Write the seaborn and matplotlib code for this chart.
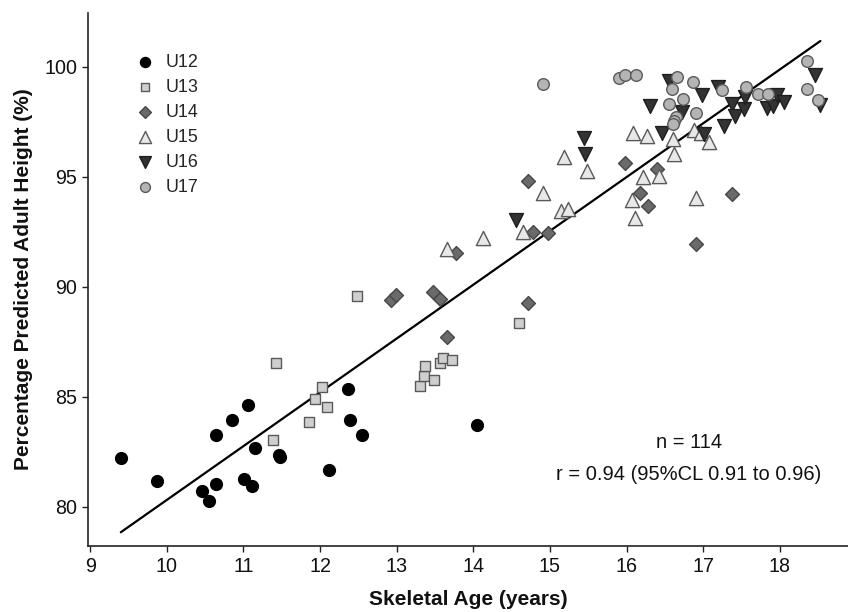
import matplotlib
matplotlib.use("Agg")
import matplotlib.pyplot as plt
import seaborn as sns
import pandas as pd

# ---- data ----
u12_age = [9.40, 9.87, 10.46, 10.55, 10.64, 10.64, 10.85, 11.06, 11.01, 11.11, 11.15,
           11.47, 11.48, 12.12, 12.36, 12.39, 12.55, 14.05]
u12_pct = [82.23, 81.18, 80.71, 80.29, 81.05, 83.29, 83.95, 84.62, 81.27, 80.94, 82.67,
           82.34, 82.26, 81.70, 85.36, 83.93, 83.25, 83.73]

u13_age = [11.42, 12.02, 11.94, 12.09, 11.85, 11.39, 12.48, 13.30, 13.35, 13.37, 13.49,
           13.57, 13.60, 13.72, 14.60]
u13_pct = [86.55, 85.43, 84.91, 84.56, 83.88, 83.05, 89.59, 85.50, 85.95, 86.41, 85.77,
           86.52, 86.77, 86.68, 88.38]

u14_age = [12.92, 12.99, 13.48, 13.57, 13.66, 14.71, 13.77, 14.71, 14.78, 14.97, 15.98,
           16.40, 16.18, 16.28, 16.90, 17.38]
u14_pct = [89.40, 89.65, 89.76, 89.43, 87.71, 89.26, 91.52, 94.80, 92.50, 92.45, 95.65,
           95.35, 94.27, 93.68, 91.95, 94.21]

u15_age = [13.66, 14.13, 14.65, 14.91, 15.18, 15.15, 15.23, 15.48, 16.08, 16.27, 16.21,
           16.42, 16.07, 16.11, 16.61, 16.62, 16.90, 16.88, 16.97, 17.07]
u15_pct = [91.70, 92.24, 92.50, 94.27, 95.91, 93.45, 93.55, 95.26, 96.97, 96.85, 95.00,
           95.03, 93.94, 93.14, 96.70, 96.02, 94.05, 97.12, 97.00, 96.58]

u16_age = [14.56, 15.44, 15.46, 16.46, 16.30, 16.55, 16.72, 16.99, 17.19, 17.01, 17.27,
           17.38, 17.41, 17.53, 17.54, 17.83, 17.91, 17.96, 18.06, 18.46, 18.53]
u16_pct = [93.06, 96.75, 96.02, 97.00, 98.21, 99.35, 97.95, 98.70, 99.09, 96.94, 97.30,
           98.29, 97.76, 98.06, 98.61, 98.11, 98.21, 98.71, 98.41, 99.62, 98.26]

u17_age = [14.91, 15.90, 15.98, 16.12, 16.66, 16.59, 16.87, 17.24, 16.74, 16.56, 16.90,
           16.65, 16.62, 16.60, 17.56, 17.71, 17.84, 18.35, 18.35, 18.50]
u17_pct = [99.20, 99.50, 99.62, 99.62, 99.55, 98.97, 99.30, 98.94, 98.53, 98.29, 97.90,
           97.70, 97.55, 97.38, 99.06, 98.75, 98.75, 100.26, 98.97, 98.49]

groups = ["U12", "U13", "U14", "U15", "U16", "U17"]
ages = [u12_age, u13_age, u14_age, u15_age, u16_age, u17_age]
pcts = [u12_pct, u13_pct, u14_pct, u15_pct, u16_pct, u17_pct]

x_ticks = [9, 10, 11, 12, 13, 14, 15, 16, 17, 18]
y_ticks = [80, 85, 90, 95, 100]
stats_lines = ["n = 114", "r = 0.94 (95%CL 0.91 to 0.96)"]

rows = []
for g, a, p in zip(groups, ages, pcts):
    for xi, yi in zip(a, p):
        rows.append({"group": g, "age": xi, "pct": yi})
df = pd.DataFrame(rows)

# ---- styling ----
sns.set_theme(style="ticks")
plt.rcParams["font.family"] = ["Liberation Sans", "DejaVu Sans"]

styles = {
    "U12": dict(marker="o", s=72, facecolor="#000000", edgecolor="#000000"),
    "U13": dict(marker="s", s=55, facecolor="#cfcfcf", edgecolor="#5a5a5a"),
    "U14": dict(marker="D", s=50, facecolor="#6a6a6a", edgecolor="#474747"),
    "U15": dict(marker="^", s=105, facecolor="#e8e8e8", edgecolor="#5a5a5a"),
    "U16": dict(marker="v", s=100, facecolor="#333333", edgecolor="#1e1e1e"),
    "U17": dict(marker="o", s=70, facecolor="#b4b4b4", edgecolor="#5a5a5a"),
}

fig = plt.figure(figsize=(8.48, 6.12), dpi=100)
ax = fig.add_axes([0.104, 0.108, 0.896, 0.871])

for g in groups:
    st = styles[g]
    sns.scatterplot(data=df[df["group"] == g], x="age", y="pct", ax=ax,
                    marker=st["marker"], s=st["s"], color=st["facecolor"],
                    edgecolor=st["edgecolor"], linewidth=1.0, label=g, zorder=3)

sns.regplot(data=df, x="age", y="pct", scatter=False, ci=None, ax=ax,
            color="black", line_kws=dict(linewidth=1.6, zorder=2))

ax.set_xlim(8.974, 18.89)
ax.set_ylim(78.23, 102.45)
ax.set_xticks(x_ticks)
ax.set_yticks(y_ticks)
ax.tick_params(axis="both", labelsize=14.2, length=4, width=1, color="#222222",
               pad=4, labelcolor="#111111")
for sp in ["top", "right"]:
    ax.spines[sp].set_visible(False)
for sp in ["left", "bottom"]:
    ax.spines[sp].set_linewidth(1.2)
    ax.spines[sp].set_color("#222222")

label_font = dict(family=["Liberation Sans Narrow", "Liberation Sans", "DejaVu Sans"],
                  weight="bold", size=15, color="#111111")
ax.set_xlabel("Skeletal Age (years)", labelpad=10, **label_font)
ax.set_ylabel("Percentage Predicted Adult Height (%)", labelpad=8, **label_font)

ax.text(16.81, 82.94, stats_lines[0], ha="center", va="center", fontsize=14.5, color="#111111")
ax.text(16.81, 81.49, stats_lines[1], ha="center", va="center", fontsize=14.5, color="#111111")

leg = ax.legend(loc="upper left", frameon=False, fontsize=12.9, handletextpad=0.15,
                labelspacing=0.45, borderaxespad=0, bbox_to_anchor=(0.042, 0.937),
                markerscale=0.85)

fig.savefig("out.png", dpi=100)
